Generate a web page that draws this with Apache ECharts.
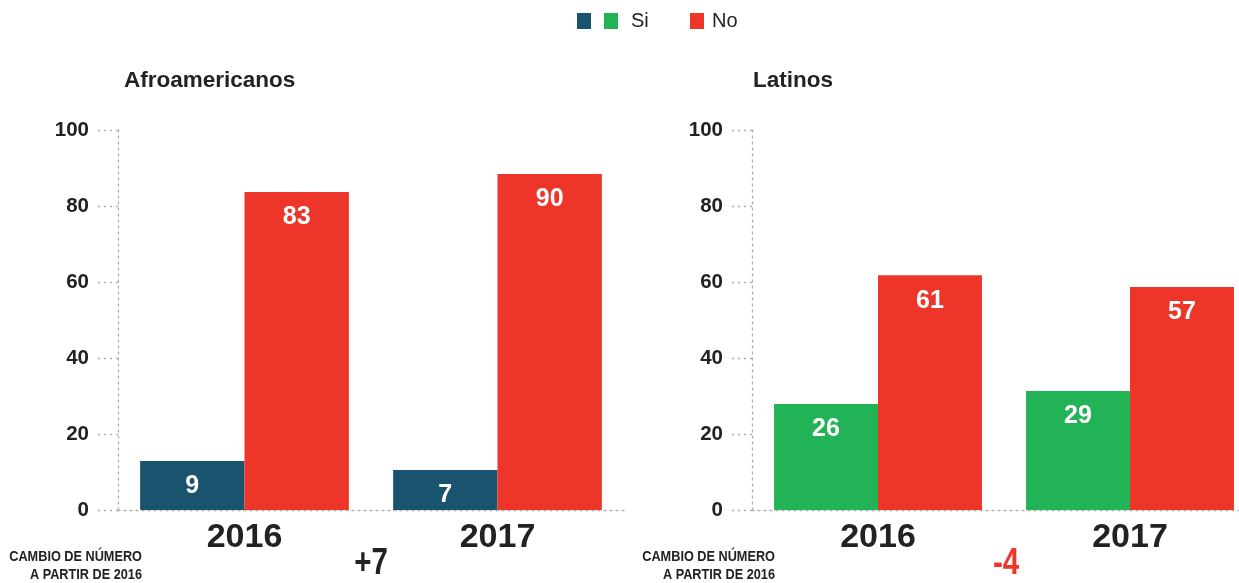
<!DOCTYPE html>
<html>
<head>
<meta charset="utf-8">
<script src="https://cdn.jsdelivr.net/npm/echarts@6/dist/echarts.min.js"></script>
<style>
html,body{margin:0;padding:0;background:#fff;overflow:hidden;}
#chart{width:1260px;height:583px;}
</style>
</head>
<body>
<div id="chart"></div>
<script>
const categories = ['2016', '2017'];
const yTicks = [0, 20, 40, 60, 80, 100];
const afroSi = [12.9, 10.5];
const afroNo = [83.7, 88.4];
const afroSiLabels = ['9', '7'];
const afroNoLabels = ['83', '90'];
const latSi = [27.9, 31.3];
const latNo = [61.8, 58.7];
const latSiLabels = ['26', '29'];
const latNoLabels = ['61', '57'];
const titles = ['Afroamericanos', 'Latinos'];
const changes = ['+7', '-4'];
const changeNote = ['CAMBIO DE NÚMERO', 'A PARTIR DE 2016'];

const BOLD = "'Liberation Sans', Arial, sans-serif";
const BLUE = '#1a536e', GREEN = '#22b357', RED = '#ee3529';
const DOT = '#b0b0b0';

function yAxis(gi) {
  return {
    type: 'value', gridIndex: gi, min: 0, max: 100, interval: 20,
    axisLine: { show: true, lineStyle: { color: DOT, type: [2, 4], width: 1.3 } },
    axisTick: { show: true, length: 21, lineStyle: { color: DOT, type: [2, 4], width: 1.3 } },
    splitLine: { show: false },
    axisLabel: { margin: 29, fontFamily: BOLD, fontWeight: 'bold', fontSize: 20.5, color: '#222',
      formatter: v => yTicks.indexOf(v) >= 0 ? String(v) : '' }
  };
}
function xAxis(gi) {
  return {
    type: 'category', gridIndex: gi, data: categories,
    axisLine: { show: true, lineStyle: { color: DOT, type: [2, 4], width: 1.3 } },
    axisTick: { show: false },
    axisLabel: { margin: 11, fontFamily: BOLD, fontWeight: 'bold', fontSize: 34, color: '#222' }
  };
}
function bar(name, gi, data, labels, color) {
  return {
    type: 'bar', name: name, xAxisIndex: gi, yAxisIndex: gi, data: data,
    barGap: '0%', barCategoryGap: '17.5%',
    itemStyle: { color: color },
    label: { show: true, position: 'insideTop', distance: 13, color: '#fff',
      fontFamily: BOLD, fontWeight: 'bold', fontSize: 25,
      formatter: p => labels[p.dataIndex] },
    emphasis: { disabled: true }
  };
}
function note(x, y, text, size, color, align) {
  return { type: 'text', x: x, y: y, scaleX: 0.82, originX: 0, originY: 0,
    style: { text: text, align: align, verticalAlign: 'middle',
      font: 'bold ' + size + 'px ' + BOLD, fill: color } };
}

const chart = echarts.init(document.getElementById('chart'));
chart.setOption({
  animation: false,
  legend: [
    { left: 572, top: 6, itemWidth: 14, itemHeight: 16, itemGap: 13, icon: 'rect',
      data: ['SiAfro', 'Si'], selectedMode: false,
      formatter: n => n === 'SiAfro' ? '' : n,
      textStyle: { fontFamily: BOLD, fontSize: 20, color: '#222', padding: [0, 0, 0, 8] } },
    { left: 685, top: 6, itemWidth: 14, itemHeight: 16, icon: 'rect',
      data: ['No'], selectedMode: false,
      textStyle: { fontFamily: BOLD, fontSize: 20, color: '#222', padding: [0, 0, 0, 3] } }
  ],
  title: [
    { text: titles[0], left: 119, top: 64, textStyle: { fontFamily: BOLD, fontWeight: 'bold', fontSize: 22.5, color: '#222' } },
    { text: titles[1], left: 748, top: 64, textStyle: { fontFamily: BOLD, fontWeight: 'bold', fontSize: 22.5, color: '#222' } }
  ],
  grid: [
    { left: 118, width: 506, top: 130, bottom: 73 },
    { left: 752, width: 504, top: 130, bottom: 73 }
  ],
  xAxis: [xAxis(0), xAxis(1)],
  yAxis: [yAxis(0), yAxis(1)],
  series: [
    bar('SiAfro', 0, afroSi, afroSiLabels, BLUE),
    bar('No', 0, afroNo, afroNoLabels, RED),
    bar('Si', 1, latSi, latSiLabels, GREEN),
    bar('No', 1, latNo, latNoLabels, RED)
  ],
  graphic: [
    note(142, 557, changeNote[0], 15.5, '#222', 'right'),
    note(142, 575, changeNote[1], 15.5, '#222', 'right'),
    note(371, 564, changes[0], 36, '#222', 'center'),
    note(775, 557, changeNote[0], 15.5, '#222', 'right'),
    note(775, 575, changeNote[1], 15.5, '#222', 'right'),
    note(1006, 564, changes[1], 36, RED, 'center')
  ]
});
</script>
</body>
</html>
